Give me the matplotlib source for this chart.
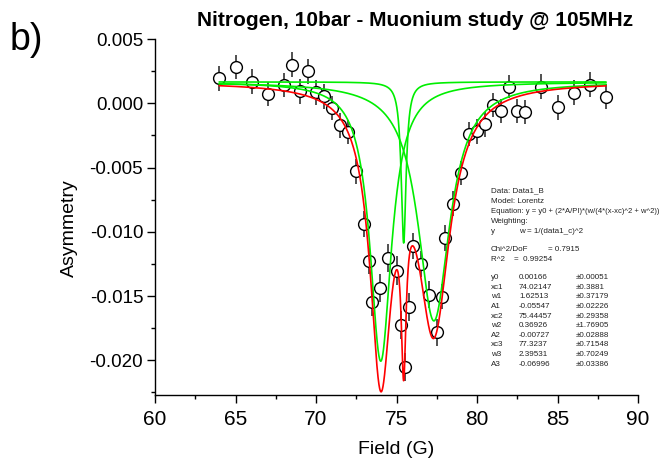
import numpy as np
import matplotlib
matplotlib.use("Agg")
import matplotlib.pyplot as plt
from matplotlib.ticker import MultipleLocator

plt.rcParams['font.family'] = ['Liberation Sans', 'DejaVu Sans']

field = [64, 65, 66, 67, 68, 68.5, 69, 69.5, 70, 70.5, 71, 71.5, 72, 72.5,
         73, 73.3, 73.5, 74, 74.5, 75, 75.3, 75.5, 75.8, 76, 76.5, 77, 77.5,
         77.8, 78, 78.5, 79, 79.5, 80, 80.5, 81, 81.5, 82, 82.5, 83, 84, 85,
         86, 87, 88]
asym = [0.00194, 0.00282, 0.00168, 0.00073, 0.00143, 0.00300, 0.00093,
        0.00248, 0.00085, 0.00054, -0.00039, -0.00173, -0.00225, -0.00530,
        -0.00940, -0.01227, -0.01543, -0.01439, -0.01206, -0.01302, -0.01723,
        -0.02054, -0.01584, -0.01108, -0.01248, -0.01491, -0.01783, -0.01504,
        -0.01047, -0.00780, -0.00543, -0.00237, -0.00219, -0.00165, -0.00012,
        -0.00059, 0.00129, -0.00062, -0.00067, 0.00129, -0.00031, 0.00083,
        0.00143, 0.00050]
asym_err = [0.00097, 0.00097, 0.00097, 0.00095, 0.00095, 0.00095, 0.00095,
            0.00095, 0.00095, 0.00095, 0.00095, 0.00095, 0.00095, 0.00095,
            0.00100, 0.00100, 0.00110, 0.00110, 0.00110, 0.00110, 0.00110,
            0.00110, 0.00110, 0.00100, 0.00100, 0.00105, 0.00105, 0.00100,
            0.00100, 0.00095, 0.00095, 0.00095, 0.00095, 0.00095, 0.00095,
            0.00095, 0.00090, 0.00095, 0.00095, 0.00095, 0.00097, 0.00097,
            0.00097, 0.00097]

# Lorentz fit results (from the fit report on the chart)
y0 = 0.00166
xc = [74.02147, 75.44457, 77.3237]
w = [1.62513, 0.36926, 2.39531]
A = [-0.05547, -0.00727, -0.06996]

# Fit report text
report_head = [
    'Data: Data1_B',
    'Model: Lorentz',
    'Equation: y = y0 + (2*A/PI)*(w/(4*(x-xc)^2 + w^2))',
    'Weighting:',
]
par_names = ['y0', 'xc1', 'w1', 'A1', 'xc2', 'w2', 'A2', 'xc3', 'w3', 'A3']
par_vals = ['0.00166', '74.02147', '1.62513', '-0.05547', '75.44457',
            '0.36926', '-0.00727', '77.3237', '2.39531', '-0.06996']
par_errs = ['\u00b10.00051', '\u00b10.3881', '\u00b10.37179', '\u00b10.02226',
            '\u00b10.29358', '\u00b11.76905', '\u00b10.02888', '\u00b10.71548',
            '\u00b10.70249', '\u00b10.03386']


def lorentz(x, xc0, w0, a0):
    return (2 * a0 / np.pi) * (w0 / (4 * (x - xc0) ** 2 + w0 ** 2))


W, H = 664, 463
fig = plt.figure(figsize=(W / 100, H / 100), dpi=100)
ax = fig.add_axes([155 / W, 1 - 395 / H, (638 - 155) / W, (395 - 39) / H])

ax.errorbar(field, asym, yerr=asym_err, fmt='o', ms=8.5, mfc='white',
            mec='black', mew=1.0, ecolor='#333333', elinewidth=1.2,
            capsize=0, zorder=2)

xf = np.linspace(min(field), max(field), 4000)
total = np.full_like(xf, y0)
for c, ww, aa in zip(xc, w, A):
    comp = lorentz(xf, c, ww, aa)
    total += comp
    ax.plot(xf, y0 + comp, color='#00ee00', lw=1.2, zorder=3)
ax.plot(xf, total, color='#ff0000', lw=1.2, zorder=4)

ax.set_xlim(60, 90)
ax.set_ylim(-0.0227, 0.005)
ax.xaxis.set_major_locator(MultipleLocator(5))
ax.xaxis.set_minor_locator(MultipleLocator(2.5))
ax.yaxis.set_major_locator(MultipleLocator(0.005))
ax.yaxis.set_minor_locator(MultipleLocator(0.0025))
ax.yaxis.set_major_formatter(plt.FuncFormatter(lambda v, p: '%.3f' % v))
ax.spines['top'].set_visible(False)
ax.spines['right'].set_visible(False)
for s in ('left', 'bottom'):
    ax.spines[s].set_linewidth(1.0)
ax.tick_params(which='major', direction='out', length=5.5, width=1.0)
ax.tick_params(which='minor', direction='out', length=3, width=1.0)
ax.tick_params(axis='x', which='major', labelsize=15, pad=5)
ax.tick_params(axis='y', which='major', labelsize=13.5, pad=3)

ax.set_xlabel('Field (G)', fontsize=14)
ax.xaxis.set_label_coords(0.5, -0.13)
ax.set_ylabel('Asymmetry', fontsize=14)
ax.yaxis.set_label_coords(-0.16, 0.47)

fig.text(415 / W, 1 - 21 / H, 'Nitrogen, 10bar - Muonium study @ 105MHz',
         fontsize=15, fontweight='bold', ha='center', va='center')
fig.text(26 / W, 1 - 40 / H, 'b)', fontsize=27, ha='center', va='center')

# fit report
fs = 5.8
tc = '#222222'
def put(x, y, s, size=fs):
    fig.text(x / W, 1 - y / H, s, fontsize=size, color=tc, ha='left', va='center')

for i, line in enumerate(report_head):
    put(491, 191 + i * 10.2, line, 5.5 if i == 2 else fs)
put(491, 231.7, 'y')
put(519, 231.7, 'w = 1/(data1_c)^2')
put(491, 249.3, 'Chi^2/DoF')
put(548, 249.3, '= 0.7915')
put(491, 259.3, 'R^2    =  0.99254')
for i, (n, v, e) in enumerate(zip(par_names, par_vals, par_errs)):
    yy = 277.7 + i * 9.6
    put(491, yy, n)
    put(519, yy, v)
    put(576, yy, e)

fig.savefig('out.png', dpi=100)
